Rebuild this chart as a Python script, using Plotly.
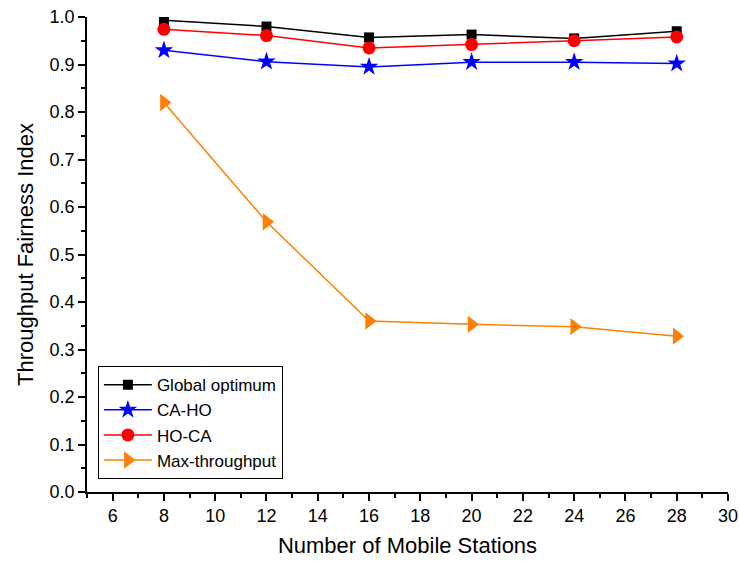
import plotly.graph_objects as go

x_stations = [8, 12, 16, 20, 24, 28]
global_opt = [0.993, 0.980, 0.957, 0.963, 0.955, 0.970]
ca_ho = [0.930, 0.906, 0.895, 0.905, 0.905, 0.902]
ho_ca = [0.974, 0.961, 0.935, 0.942, 0.950, 0.958]
max_tp = [0.820, 0.569, 0.360, 0.353, 0.348, 0.328]

series = [
    ("Global optimum", global_opt, "black", "square", 10),
    ("CA-HO", ca_ho, "blue", "star", 14),
    ("HO-CA", ho_ca, "red", "circle", 13),
    ("Max-throughput", max_tp, "#FF8000", "triangle-right", 15),
]

fig = go.Figure()
for name, vals, col, sym, sz in series:
    fig.add_trace(go.Scatter(
        x=x_stations, y=vals, name=name, mode="lines+markers",
        line=dict(color=col, width=1.5),
        marker=dict(symbol=sym, size=sz, color=col, line=dict(width=0)),
    ))

fig.update_layout(
    width=739, height=565,
    margin=dict(l=87, r=11, t=17, b=73, autoexpand=False),
    plot_bgcolor="white", paper_bgcolor="white",
    font=dict(family="Arial, Liberation Sans", size=18, color="black"),
    showlegend=True,
    legend=dict(
        x=0.017, y=0.027, xanchor="left", yanchor="bottom",
        bordercolor="black", borderwidth=1, bgcolor="white",
        font=dict(size=17), tracegroupgap=0, itemwidth=48,
    ),
)
fig.update_xaxes(
    range=[5, 30], tickvals=list(range(6, 31, 2)),
    showline=True, linecolor="black", linewidth=1.5,
    ticks="outside", ticklen=7, tickwidth=1.5, tickcolor="black",
    minor=dict(tickvals=list(range(5, 30, 2)), ticks="outside", ticklen=4, tickwidth=1.5, tickcolor="black"),
    showgrid=False, zeroline=False, automargin=False,
    title=dict(text="Number of Mobile Stations", font=dict(size=22), standoff=12),
)
fig.update_yaxes(
    range=[0, 1.0], tickvals=[i / 10 for i in range(11)],
    tickformat=".1f",
    showline=True, linecolor="black", linewidth=1.5,
    ticks="outside", ticklen=7, tickwidth=1.5, tickcolor="black",
    minor=dict(tickvals=[0.05 + i / 10 for i in range(10)], ticks="outside", ticklen=4, tickwidth=1.5, tickcolor="black"),
    showgrid=False, zeroline=False, automargin=False,
    title=dict(text="Throughput Fairness Index", font=dict(size=22), standoff=10),
)
fig.write_html("out.html")
